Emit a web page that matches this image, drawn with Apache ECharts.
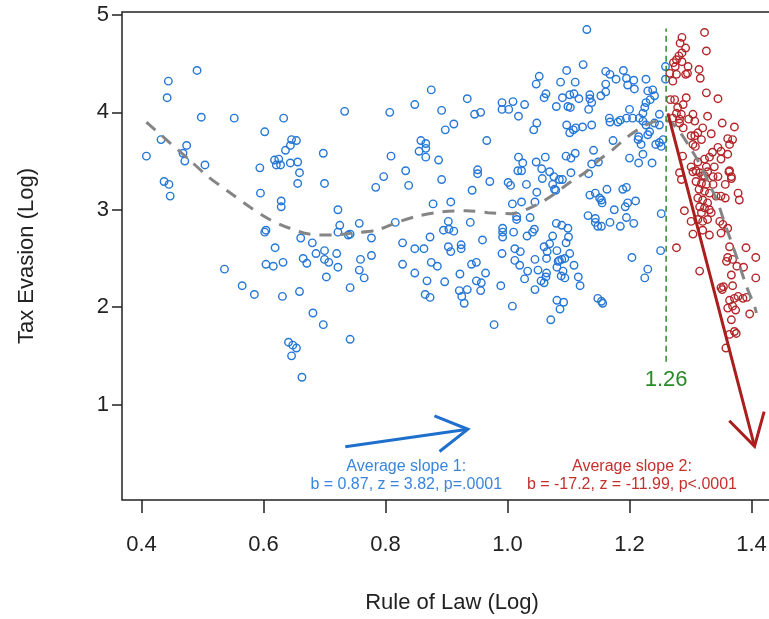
<!DOCTYPE html>
<html>
<head>
<meta charset="utf-8">
<script src="https://cdn.jsdelivr.net/npm/echarts@6/dist/echarts.min.js"></script>
<style>
  html, body { margin: 0; padding: 0; background: #fff; }
  #chart { width: 769px; height: 619px; }
</style>
</head>
<body>
<div id="chart"></div>
<script>
// [rule of law (log), tax evasion (log)] -- countries below the 1.26 threshold
const lowGroup = [
  [0.491,4.43],[0.444,4.32],[0.442,4.15],[0.498,3.95],[0.552,3.94],[0.633,3.94],[0.733,4.01],[0.602,3.80],[0.432,3.72],[0.474,3.66],
  [0.468,3.58],[0.471,3.50],[0.408,3.55],[0.504,3.46],[0.646,3.72],[0.654,3.71],[0.644,3.66],[0.636,3.61],[0.618,3.51],[0.625,3.52],
  [0.621,3.46],[0.628,3.46],[0.644,3.48],[0.656,3.49],[0.594,3.43],[0.659,3.38],[0.656,3.27],[0.698,3.58],[0.700,3.27],[0.437,3.29],
  [0.445,3.26],[0.447,3.14],[0.595,3.17],[0.629,3.09],[0.629,3.03],[0.722,3.00],[0.784,3.23],[0.604,2.79],[0.602,2.77],[0.725,2.84],
  [0.722,2.77],[0.739,2.74],[0.742,2.75],[0.757,2.86],[0.777,2.71],[0.661,2.71],[0.680,2.66],[0.619,2.61],
  [0.536,2.39],[0.565,2.22],[0.585,2.13],[0.604,2.44],[0.616,2.42],[0.632,2.46],[0.631,2.11],[0.659,2.16],[0.681,1.94],[0.698,1.82],
  [0.742,1.67],[0.641,1.64],[0.648,1.61],[0.654,1.58],[0.646,1.50],[0.663,1.28],[0.686,2.55],[0.700,2.58],[0.665,2.50],[0.671,2.45],
  [0.700,2.49],[0.707,2.46],[0.720,2.55],[0.722,2.41],[0.703,2.31],[0.759,2.49],[0.757,2.38],[0.765,2.30],[0.742,2.20],[0.777,2.53],
  [1.130,4.85],[1.124,4.49],[1.097,4.43],[1.052,4.37],[1.047,4.29],[1.087,4.31],[1.111,4.31],[1.161,4.42],[1.168,4.39],[1.178,4.34],
  [1.190,4.43],[1.195,4.35],[1.197,4.28],[1.161,4.29],[0.875,4.23],[0.934,4.14],[0.848,4.08],[0.807,4.00],[0.892,4.02],[0.946,3.98],
  [0.956,4.00],[0.991,4.10],[0.991,4.03],[1.002,4.03],[1.009,4.11],[1.028,4.08],[1.018,3.96],[1.063,4.19],[1.060,4.15],[1.090,4.15],
  [1.102,4.18],[1.109,4.19],[1.117,4.14],[1.080,4.06],[1.099,4.06],[1.103,4.05],[1.135,4.18],[1.135,4.14],[1.138,4.10],[1.133,4.03],
  [1.153,4.17],[1.161,4.21],[1.048,3.89],[1.043,3.82],[1.097,3.87],[1.102,3.79],[1.108,3.82],[1.112,3.84],[1.123,3.85],[1.138,3.87],
  [1.167,3.94],[1.168,3.90],[1.181,3.90],[1.185,3.92],[1.195,3.94],[0.912,3.88],[0.898,3.82],[0.966,3.71],[0.858,3.71],[0.866,3.68],
  [0.855,3.60],[0.866,3.63],[0.866,3.54],[0.809,3.55],[0.887,3.51],[0.833,3.40],[0.797,3.34],[0.838,3.25],[0.892,3.31],[0.951,3.41],
  [0.951,3.37],[0.971,3.29],[0.942,3.20],[1.018,3.54],[1.025,3.48],[1.017,3.40],[1.023,3.40],[1.062,3.54],[1.047,3.49],[1.056,3.42],
  [1.069,3.39],[1.076,3.34],[1.085,3.31],[1.090,3.31],[1.057,3.32],[1.001,3.28],[1.005,3.25],[1.031,3.26],[1.074,3.26],[1.077,3.21],
  [1.079,3.20],[1.048,3.18],[1.096,3.55],[1.104,3.53],[1.111,3.58],[1.104,3.38],[1.133,3.37],[1.141,3.61],[1.138,3.47],[1.149,3.49],
  [1.173,3.71],[1.135,3.15],[1.144,3.17],[1.151,3.12],[1.155,3.07],[1.163,3.21],[1.189,3.21],[1.195,3.23],[1.175,3.00],[1.193,3.03],
  [1.132,2.94],[1.144,2.91],[1.144,2.87],[1.168,2.87],[1.185,2.83],[1.195,2.92],[0.878,3.06],[0.907,3.08],[1.008,3.06],[1.023,3.08],
  [1.045,3.08],[0.903,2.88],[0.895,2.79],[0.904,2.80],[0.912,2.78],[0.939,2.87],[0.816,2.87],[1.015,2.93],[1.015,2.90],[1.037,2.92],
  [0.992,2.81],[0.992,2.77],[0.992,2.72],[1.010,2.77],[1.032,2.73],[1.041,2.77],[1.044,2.80],[1.080,2.86],[1.089,2.84],[1.099,2.81],
  [1.100,2.72],[1.096,2.66],[0.959,2.69],[0.873,2.72],[0.828,2.66],[0.848,2.60],[0.863,2.60],[0.903,2.62],[0.924,2.64],[0.924,2.60],
  [1.060,2.62],[1.069,2.65],[1.065,2.57],[1.012,2.60],[1.021,2.57],[0.991,2.55],
  [0.828,2.44],[0.848,2.35],[0.868,2.27],[0.865,2.13],[0.873,2.10],[0.897,2.26],[0.875,2.46],[0.885,2.42],[0.907,2.57],[0.922,2.34],
  [0.941,2.44],[0.949,2.46],[0.964,2.35],[0.949,2.27],[0.957,2.25],[0.956,2.17],[0.921,2.17],[0.934,2.18],[0.925,2.11],[0.929,2.04],
  [0.989,2.22],[1.008,2.01],[0.978,1.82],[1.012,2.48],[1.020,2.43],[1.045,2.49],[1.050,2.38],[1.033,2.37],[1.028,2.29],[1.045,2.18],
  [1.064,2.35],[1.060,2.25],[1.055,2.27],[1.063,2.31],[1.064,2.50],[1.081,2.58],[1.083,2.47],[1.081,2.41],[1.094,2.50],[1.089,2.49],
  [1.085,2.48],[1.102,2.55],[1.109,2.43],[1.091,2.37],[1.088,2.32],[1.094,2.30],[1.116,2.31],[1.119,2.22],[1.074,2.73],[1.081,2.07],
  [1.092,2.05],[1.086,1.98],[1.071,1.87],[1.148,2.09],[1.156,2.04],[1.148,2.83],
  [1.207,4.33],[1.227,4.34],[1.208,4.24],[1.230,4.22],[1.238,4.23],[1.241,4.17],[1.234,4.13],[1.227,4.10],[1.225,4.05],[1.222,3.99],
  [1.200,4.03],[1.205,3.94],[1.216,3.94],[1.222,3.91],[1.249,3.98],[1.227,3.87],[1.233,3.80],[1.230,3.77],[1.215,3.75],[1.241,3.89],
  [1.249,3.87],[1.259,4.47],[1.259,4.34],[1.214,3.72],[1.219,3.67],[1.243,3.67],[1.249,3.69],[1.255,3.72],[1.252,3.65],[1.222,3.57],
  [1.215,3.48],[1.237,3.48],[1.200,3.53],[1.154,3.10],[1.210,3.09],[1.207,2.86],[1.154,2.83],[1.252,2.96],[1.251,2.58],[1.204,2.51],
  [1.197,3.07],[1.230,2.39],[1.225,2.30],[1.154,2.06]
];

// countries above the threshold
const highGroup = [
  [1.286,4.77],[1.323,4.82],[1.283,4.71],[1.292,4.66],[1.326,4.63],[1.286,4.61],[1.281,4.58],[1.277,4.54],[1.272,4.51],[1.275,4.47],
  [1.286,4.52],[1.296,4.47],[1.266,4.40],[1.277,4.39],[1.271,4.32],[1.292,4.39],[1.295,4.40],[1.314,4.44],[1.316,4.35],[1.326,4.20],
  [1.345,4.14],[1.267,4.13],[1.274,4.13],[1.293,4.15],[1.279,4.05],[1.288,4.08],[1.277,3.99],[1.271,3.94],[1.282,3.93],[1.285,3.98],
  [1.304,3.98],[1.297,3.93],[1.307,3.91],[1.328,3.96],[1.352,3.89],[1.372,3.85],[1.320,3.84],[1.312,3.79],[1.307,3.76],[1.301,3.76],
  [1.334,3.78],[1.288,3.84],[1.282,3.89],[1.318,3.72],[1.304,3.67],[1.308,3.65],[1.361,3.73],[1.369,3.72],[1.364,3.67],[1.345,3.64],
  [1.350,3.60],[1.336,3.59],[1.331,3.54],[1.361,3.57],[1.350,3.52],[1.364,3.40],[1.367,3.34],[1.339,3.44],[1.326,3.44],[1.323,3.52],
  [1.312,3.49],[1.301,3.44],[1.309,3.40],[1.328,3.39],[1.320,3.35],[1.287,3.55],[1.282,3.38],[1.285,3.31],
  [1.304,3.39],[1.315,3.38],[1.323,3.35],[1.337,3.34],[1.345,3.34],[1.363,3.39],[1.367,3.32],[1.309,3.29],[1.318,3.27],[1.326,3.26],
  [1.337,3.26],[1.357,3.26],[1.314,3.21],[1.323,3.19],[1.331,3.17],[1.342,3.14],[1.350,3.14],[1.357,3.12],[1.378,3.17],[1.380,3.10],
  [1.312,3.12],[1.320,3.10],[1.328,3.07],[1.315,3.03],[1.323,3.02],[1.331,3.00],[1.290,2.99],[1.318,2.97],[1.334,2.97],[1.301,2.88],
  [1.312,2.90],[1.320,2.88],[1.328,2.90],[1.348,2.88],[1.353,2.85],[1.361,2.81],[1.304,2.75],[1.320,2.79],[1.331,2.74],[1.350,2.76],
  [1.277,2.61],[1.364,2.62],[1.391,2.61],[1.407,2.51],[1.361,2.51],[1.369,2.49],[1.359,2.47],[1.376,2.42],[1.387,2.41],[1.315,2.37],
  [1.367,2.33],[1.407,2.30],[1.350,2.20],[1.354,2.21],[1.369,2.22],[1.364,2.07],[1.372,2.09],[1.378,2.11],[1.386,2.09],[1.392,2.10],
  [1.397,1.93],[1.374,1.97],[1.369,2.01],[1.367,1.87],[1.372,1.75],[1.364,1.72],[1.375,1.73],[1.358,1.58],[1.352,2.18],[1.361,1.99]
];

// smoothed trend
const trendLine = [
  [0.408,3.90],[0.446,3.69],[0.479,3.51],[0.509,3.34],[0.544,3.18],[0.577,3.03],[0.610,2.90],[0.643,2.81],[0.675,2.75],[0.714,2.74],
  [0.746,2.76],[0.785,2.79],[0.823,2.88],[0.856,2.94],[0.894,2.98],[0.932,2.99],[0.968,2.97],[1.006,2.96],[1.041,3.03],[1.072,3.14],
  [1.102,3.28],[1.129,3.39],[1.148,3.50],[1.173,3.62],[1.197,3.75],[1.227,3.87],[1.246,3.91],[1.263,3.91],[1.282,3.80],[1.298,3.65],
  [1.317,3.45],[1.331,3.26],[1.345,3.07],[1.356,2.86],[1.367,2.67],[1.378,2.47],[1.392,2.21],[1.405,2.01],[1.408,1.94]
];

const cutX = 1.26;
const cutSpan = [1.44, 4.86];

// [x start, y start, x end, y end]
const slopeArrows = [
  [0.734, 0.567, 0.935, 0.746],
  [1.263, 3.99, 1.405, 0.57]
];

const noteText = ['Average slope 1:', 'b = 0.87, z = 3.82, p=.0001', 'Average slope 2:', 'b = -17.2, z = -11.99, p<.0001', cutX.toFixed(2)];
const noteX = [0.834, 0.834, 1.204, 1.204, 1.26];
const noteY = [0.362, 0.174, 0.362, 0.174, 1.253];

const xTicks = [0.4, 0.6, 0.8, 1.0, 1.2, 1.4];
const yTicks = [1, 2, 3, 4, 5];

const BLUE = '#2677d6';
const RED = '#b3262a';
const FONT = '"Liberation Sans", Arial, sans-serif';

const chart = echarts.init(document.getElementById('chart'));

const arrowItem = (params, api) => {
  const a = api.coord([api.value(0), api.value(1)]);
  const b = api.coord([api.value(2), api.value(3)]);
  const ang = Math.atan2(a[1] - b[1], a[0] - b[0]);
  const len = 36, spread = Math.PI / 6;
  const h1 = [b[0] + len * Math.cos(ang + spread), b[1] + len * Math.sin(ang + spread)];
  const h2 = [b[0] + len * Math.cos(ang - spread), b[1] + len * Math.sin(ang - spread)];
  const color = params.dataIndex === 0 ? '#1f70cc' : '#aa1e1e';
  const st = { stroke: color, lineWidth: 3, fill: null };
  return {
    type: 'group',
    children: [
      { type: 'polyline', shape: { points: [a, b] }, style: st },
      { type: 'polyline', shape: { points: [h1, b, h2] }, style: st }
    ]
  };
};

const noteItem = (params, api) => {
  const i = params.dataIndex;
  const p = api.coord([api.value(0), api.value(1)]);
  let fill = i < 2 ? '#3a86dc' : '#c4302e';
  let size = 16;
  if (i === 4) { fill = '#2a8a2a'; size = 22; }
  return {
    type: 'text',
    x: p[0],
    y: p[1],
    style: {
      text: noteText[i],
      fill: fill,
      fontSize: size,
      fontFamily: FONT,
      align: 'center',
      verticalAlign: 'middle'
    }
  };
};

const option = {
  animation: false,
  backgroundColor: '#fff',
  grid: {
    left: 122,
    top: 12,
    width: 660,
    height: 488,
    outerBoundsMode: 'none',
    show: true,
    borderColor: '#222',
    borderWidth: 1.5,
    backgroundColor: 'transparent'
  },
  xAxis: {
    type: 'value',
    min: 0.368,
    max: 1.45,
    name: 'Rule of Law (Log)',
    nameLocation: 'middle',
    nameGap: 92,
    nameTextStyle: { fontSize: 22, color: '#222', fontFamily: FONT },
    axisLine: { show: false },
    splitLine: { show: false },
    axisTick: { show: true, length: 13, customValues: xTicks, lineStyle: { color: '#222', width: 1.5 } },
    axisLabel: {
      customValues: xTicks,
      formatter: v => v.toFixed(1),
      margin: 34,
      fontSize: 22,
      color: '#222',
      fontFamily: FONT
    }
  },
  yAxis: {
    type: 'value',
    min: 0.02,
    max: 5.03,
    name: 'Tax Evasion (Log)',
    nameLocation: 'middle',
    nameGap: 84,
    nameTextStyle: { fontSize: 22, color: '#222', fontFamily: FONT },
    axisLine: { show: false },
    splitLine: { show: false },
    axisTick: { show: true, length: 10, customValues: yTicks, lineStyle: { color: '#222', width: 1.5 } },
    axisLabel: {
      customValues: yTicks,
      formatter: v => String(v),
      margin: 13,
      fontSize: 22,
      color: '#222',
      fontFamily: FONT
    }
  },
  series: [
    {
      type: 'scatter',
      data: lowGroup,
      symbol: 'circle',
      symbolSize: 7.5,
      itemStyle: { color: 'rgba(0,0,0,0)', borderColor: BLUE, borderWidth: 1.4, opacity: 1 },
      emphasis: { disabled: true }
    },
    {
      type: 'scatter',
      data: highGroup,
      symbol: 'circle',
      symbolSize: 7.5,
      itemStyle: { color: 'rgba(0,0,0,0)', borderColor: RED, borderWidth: 1.4, opacity: 1 },
      emphasis: { disabled: true }
    },
    {
      type: 'line',
      data: trendLine,
      smooth: 0.3,
      showSymbol: false,
      lineStyle: { color: '#858585', width: 3, type: [12, 9] },
      z: 3
    },
    {
      type: 'line',
      data: [[cutX, cutSpan[0]], [cutX, cutSpan[1]]],
      showSymbol: false,
      lineStyle: { color: '#2a8a2a', width: 1.5, type: [6, 4] },
      z: 3
    },
    {
      type: 'custom',
      data: slopeArrows,
      renderItem: arrowItem,
      encode: { x: [0, 2], y: [1, 3] },
      clip: false,
      z: 4
    },
    {
      type: 'custom',
      data: noteX.map((x, i) => [x, noteY[i]]),
      renderItem: noteItem,
      clip: false,
      z: 4
    }
  ]
};

chart.setOption(option);
</script>
</body>
</html>
